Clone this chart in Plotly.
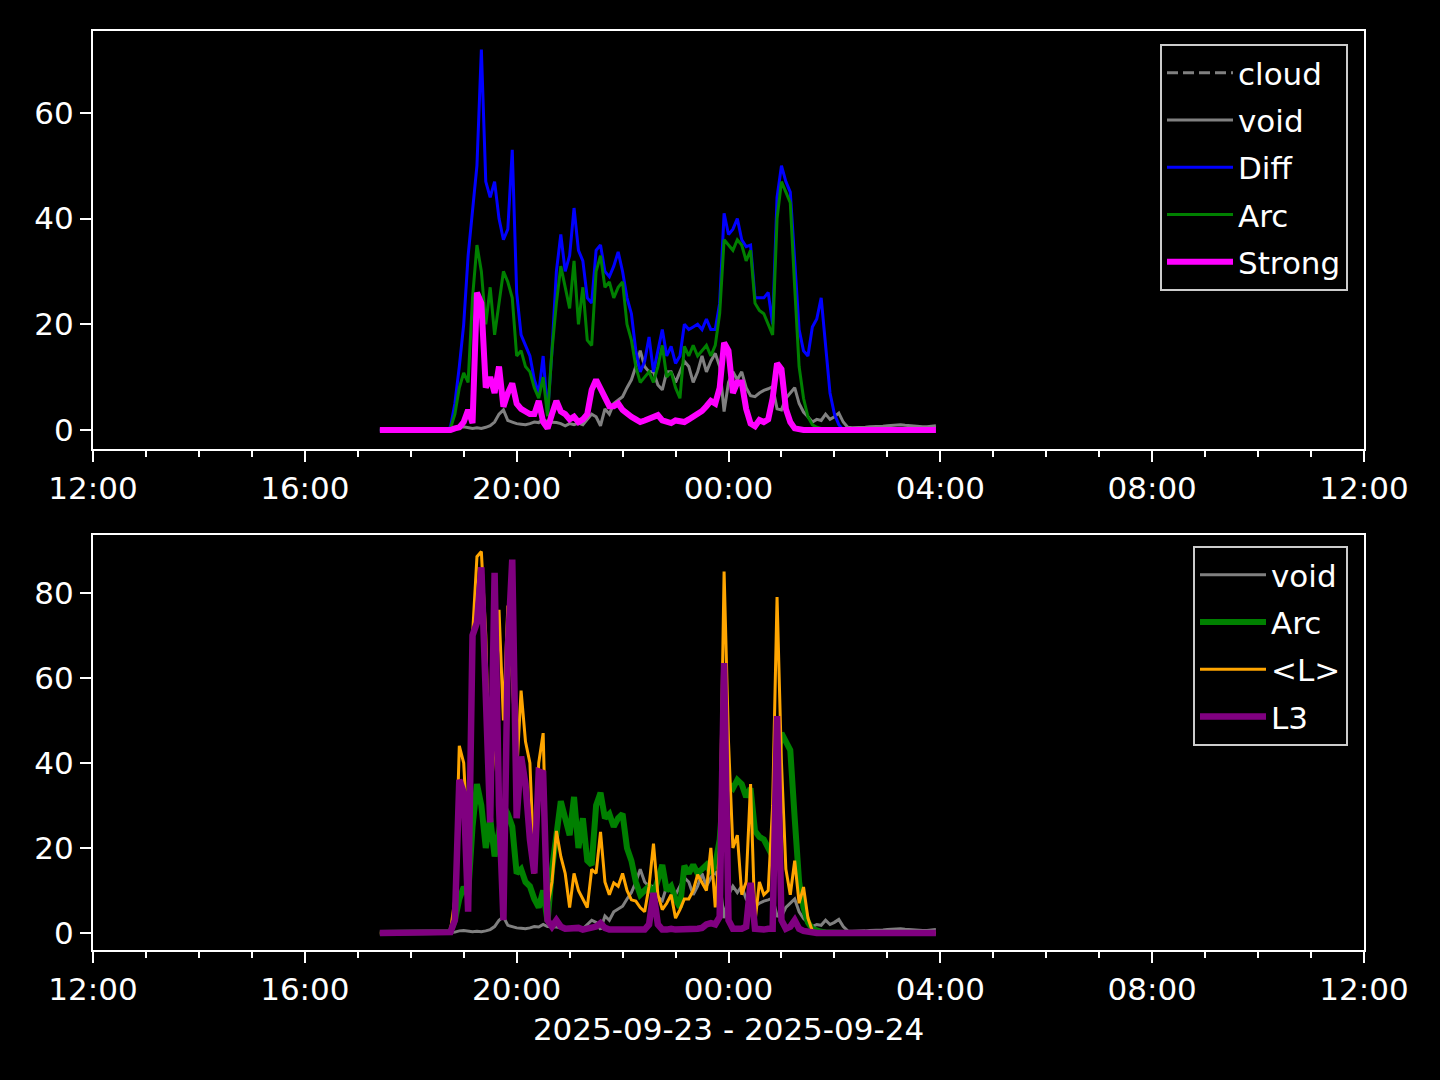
import pandas as pd
import plotly.graph_objects as go

# 5-minute samples, 2025-09-23 17:25 -> 2025-09-24 03:55
times = pd.date_range("2025-09-23 17:25", "2025-09-24 03:55", freq="5min")

# rows: 17:25-17:55, then one row per hour 18:00 ... 03:00 (12 values each)
cloud = [None]  # listed in the legend only, no visible samples

void = [0, 0, 0, 0, 0, 0, 0,
        0, 0, 0, 0, 0, 0, 0, 0, 0, 0.1, 0.2, 0.5,
        0.6, 0.5, 0.3, 0.4, 0.3, 0.5, 0.8, 1.5, 3.0, 3.8, 1.8, 1.5,
        1.2, 1.1, 1.0, 1.2, 1.5, 1.4, 2.0, 1.5, 1.5, 1.4, 1.2, 0.8,
        1.2, 1.0, 1.3, 1.0, 2.0, 3.0, 2.5, 0.8, 4.0, 3.0, 5.0, 5.7,
        6.3, 8.0, 9.5, 12, 15, 12, 11, 11, 8.5, 7.6, 11, 11,
        9, 11, 13, 12, 9, 11, 14, 11, 13, 14.5, 12, 3.5,
        9, 11, 9.5, 11, 8, 6.5, 6.3, 7, 7.5, 7.8, 8.2, 4,
        3.8, 6, 7, 8, 5, 3.4, 2.5, 1.5, 2, 1.8, 3, 2,
        2.5, 3.2, 1.5, 0.5, 0.4, 0.4, 0.5, 0.5, 0.6, 0.6, 0.7, 0.7,
        0.8, 0.9, 1.0, 1.0, 0.9, 0.8, 0.7, 0.6, 0.6, 0.6, 0.7, 0.8]

diff = [0, 0, 0, 0, 0, 0, 0,
        0, 0, 0, 0, 0, 0, 0, 0, 0, 0.5, 5, 12,
        20, 33, 42, 50, 72, 47, 44, 47, 40, 36, 38, 53,
        26, 18, 16, 14, 9.5, 7, 14, 3, 15, 30, 37, 30,
        33, 42, 34, 32, 25, 24, 34, 35, 30, 29, 31, 33.7,
        30, 25, 22, 15, 11, 13, 17.6, 11, 15, 19, 14, 15.8,
        12.6, 14, 20, 19, 19.5, 20, 19, 21, 19, 19, 24, 41,
        37, 38, 40, 36, 34.7, 35, 25, 25, 25, 26, 20, 44,
        50, 47, 45, 32, 19, 15, 14, 19.5, 21, 25, 16, 7,
        3, 1, 0, 0, 0, 0, 0, 0, 0, 0, 0, 0,
        0, 0, 0, 0, 0, 0, 0, 0, 0, 0, 0, 0]

arc = [0, 0, 0, 0, 0, 0, 0,
       0, 0, 0, 0, 0, 0, 0, 0, 0, 0.3, 3, 8,
       10.8, 9, 25, 35, 30, 20, 27, 18, 24, 30, 28, 25,
       14, 15, 12, 11, 8, 6, 10, 2.6, 15, 24, 31, 27,
       23, 32, 20, 27, 17, 16, 30, 33, 27, 28, 25, 27,
       28, 20, 17, 12, 9, 10, 11, 9, 12, 16, 10, 11,
       8, 6, 15.8, 14, 16, 14, 15, 16, 14, 16, 22, 36,
       35, 34, 36, 35, 32, 34, 24, 22.6, 22, 20, 18, 40,
       47, 45, 43, 27, 12, 6, 2.5, 1, 0.5, 0.3, 0.2, 0.1,
       0, 0, 0, 0, 0, 0, 0, 0, 0, 0, 0, 0,
       0, 0, 0, 0, 0, 0, 0, 0, 0, 0, 0, 0]

strong = [0, 0, 0, 0, 0, 0, 0,
          0, 0, 0, 0, 0, 0, 0, 0, 0, 0, 0.3, 0.5,
          1.5, 3.8, 1.3, 26, 24, 8, 10, 7, 12, 4.4, 7, 8.8,
          5, 4, 3.5, 3, 3, 5.5, 1.5, 0.3, 3, 5.5, 3.5, 3,
          2, 2.5, 1.5, 2, 3, 7.6, 9.5, 8, 6.3, 4.5, 4.5, 5,
          3.8, 3, 2.5, 2, 1.5, 1.8, 2.2, 2.5, 2.8, 1.8, 1.5, 1.3,
          1.8, 1.5, 1.5, 2, 2.5, 2.8, 3.6, 4.5, 5.5, 5, 8, 16.5,
          15, 7, 9, 9, 4, 1.2, 0.7, 1.9, 1.5, 2, 6, 12.6,
          11.5, 4, 1.5, 0.3, 0, 0, 0, 0, 0, 0, 0, 0,
          0, 0, 0, 0, 0, 0, 0, 0, 0, 0, 0, 0,
          0, 0, 0, 0, 0, 0, 0, 0, 0, 0, 0, 0]

l_mean = [0, 0, 0, 0, 0, 0, 0,
          0, 0, 0, 0, 0, 0, 0, 0, 0, 0.5, 8, 44,
          40, 20, 70, 88.5, 89.7, 70, 30, 45, 76, 50, 77, 60,
          37.6, 57, 45, 40, 14, 40, 47, 6, 12, 24, 18, 14,
          6, 14, 10, 8, 6, 15, 14, 23.8, 12, 9, 11.8, 11,
          14, 10, 7.8, 7.5, 6, 5, 11, 21, 9, 5.5, 7, 9,
          3.5, 5.5, 8, 8, 10, 13.7, 12, 10, 20, 6, 20, 85,
          45, 20, 23, 9, 12, 35, 2.5, 12, 9, 10, 30, 79,
          40, 15, 9, 17, 7, 10.8, 3.5, 0.5, 0, 0, 0, 0,
          0, 0, 0, 0, 0, 0, 0, 0, 0, 0, 0, 0,
          0, 0, 0, 0, 0, 0, 0, 0, 0, 0, 0, 0]

l3 = [0, 0, 0, 0, 0, 0, 0,
      0, 0, 0, 0, 0, 0, 0, 0, 0, 0.2, 3, 36,
      33, 5, 70, 73, 86, 59, 26, 84.7, 30, 3, 67, 87.8,
      27, 41.5, 35, 22, 14, 38, 37.6, 3, 1.5, 3, 1.5, 1,
      1, 1, 1.2, 0.8, 1, 1, 1.5, 2.3, 1.2, 0.8, 0.8, 0.8,
      0.8, 0.8, 0.8, 0.8, 0.8, 0.8, 2, 9.4, 2, 0.8, 0.8, 1,
      0.8, 0.8, 1, 1, 1, 1, 1.2, 2, 2.3, 2, 3.8, 63.5,
      3, 1, 1, 1, 1.5, 11.8, 1, 0.8, 0.8, 1, 1, 51,
      3, 1, 1.5, 3, 1, 0.5, 0.2, 0, 0, 0, 0, 0,
      0, 0, 0, 0, 0, 0, 0, 0, 0, 0, 0, 0,
      0, 0, 0, 0, 0, 0, 0, 0, 0, 0, 0, 0]

x_range = ["2025-09-23 12:00", "2025-09-24 12:00"]
xlabel = "2025-09-23 - 2025-09-24"

FONT = "DejaVu Sans"
FS = 31

fig = go.Figure()


def add(x, y, name, color, width, xa, ya, leg, dash=None):
    fig.add_trace(go.Scatter(x=x, y=y, name=name, mode="lines",
                             line=dict(color=color, width=width, dash=dash),
                             xaxis=xa, yaxis=ya, legend=leg,
                             legendgroup=leg + name, connectgaps=False))


# top panel
add(times[:len(cloud)], cloud, "cloud", "#808080", 3, "x", "y", "legend", dash="11px,5px")
add(times, void, "void", "#808080", 3, "x", "y", "legend")
add(times, diff, "Diff", "#0000ff", 3, "x", "y", "legend")
add(times, arc, "Arc", "#008000", 3, "x", "y", "legend")
add(times, strong, "Strong", "#ff00ff", 6, "x", "y", "legend")

# bottom panel
add(times, void, "void", "#808080", 3, "x2", "y2", "legend2")
add(times, arc, "Arc", "#008000", 6, "x2", "y2", "legend2")
add(times, l_mean, "<L>", "#ffa500", 3, "x2", "y2", "legend2")
add(times, l3, "L3", "#800080", 6.5, "x2", "y2", "legend2")

W, H = 1440, 1080
xdom = [93 / W, 1364 / W]

axis_common = dict(showline=True, linecolor="white", linewidth=2, mirror=True,
                   ticks="outside", ticklen=11, tickwidth=2, tickcolor="white",
                   showgrid=False, zeroline=False, automargin=False,
                   tickfont=dict(color="white", size=FS, family=FONT))

xaxis_common = dict(axis_common, type="date", range=x_range,
                    tick0="2025-09-23 00:00", dtick=4 * 3600 * 1000, tickformat="%H:%M",
                    minor=dict(ticks="outside", ticklen=6, tickwidth=2, tickcolor="white",
                               dtick=3600 * 1000, tick0="2025-09-23 00:00", showgrid=False))

legend_common = dict(xanchor="right", yanchor="top", bgcolor="black",
                     bordercolor="#cccccc", borderwidth=2, tracegroupgap=4,
                     itemwidth=66,
                     font=dict(color="white", size=FS, family=FONT))

fig.update_layout(
    width=W, height=H,
    margin=dict(l=0, r=0, t=0, b=0, autoexpand=False),
    paper_bgcolor="black", plot_bgcolor="black",
    font=dict(family=FONT, color="white", size=FS),
    xaxis=dict(xaxis_common, domain=xdom, anchor="y"),
    yaxis=dict(axis_common, domain=[1 - 449 / H, 1 - 31 / H], anchor="x",
               range=[-3.6, 75.5], tickvals=[0, 20, 40, 60]),
    xaxis2=dict(xaxis_common, domain=xdom, anchor="y2",
                title=dict(text=xlabel, font=dict(color="white", size=FS, family=FONT), standoff=12)),
    yaxis2=dict(axis_common, domain=[1 - 950 / H, 1 - 535 / H], anchor="x2",
                range=[-4.0, 93.6], tickvals=[0, 20, 40, 60, 80]),
    legend=dict(legend_common, x=1348 / W, y=1 - 44 / H),
    legend2=dict(legend_common, x=1348 / W, y=1 - 546 / H),
    showlegend=True,
)

fig.write_html("out.html", config={"displayModeBar": False},
               post_script="document.body.style.margin='0';")
